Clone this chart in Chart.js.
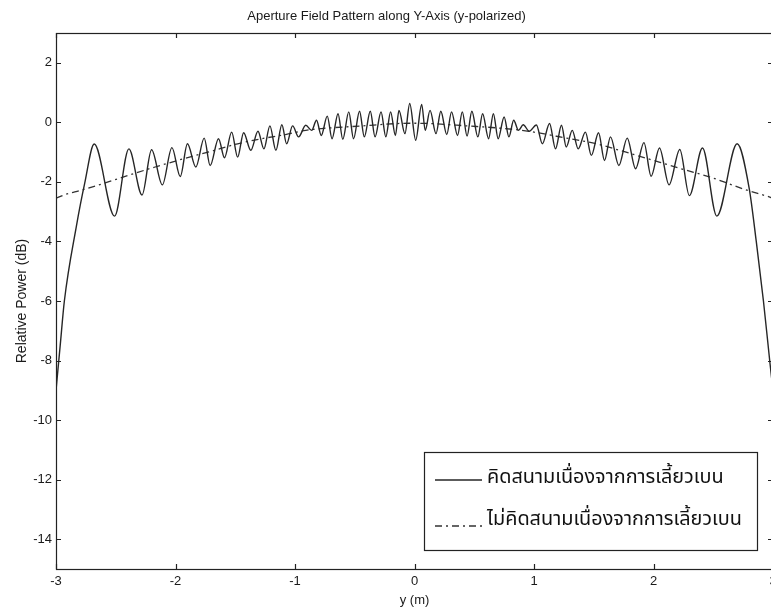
<!DOCTYPE html>
<html>
<head>
<meta charset="utf-8">
<script src="https://cdn.jsdelivr.net/npm/chart.js@4.4.1/dist/chart.umd.min.js"></script>
<style>
  html, body { margin: 0; padding: 0; background: #fff; overflow: hidden; }
</style>
</head>
<body>
<canvas id="apertureChart" width="790" height="610"></canvas>
<script>
// aperture field along y (extrema of the ripple + the edge roll-off)
const solidX = [
  -3.00, -2.965, -2.93, -2.83, -2.76, -2.68, -2.51, -2.39, -2.28, -2.20, -2.11, -2.03, -1.96, -1.90,
  -1.83, -1.76, -1.71, -1.64, -1.59, -1.53, -1.48, -1.43, -1.37, -1.31, -1.26, -1.21, -1.16, -1.11,
  -1.07, -1.02, -0.97, -0.91, -0.86, -0.82, -0.78, -0.73, -0.69, -0.64, -0.60, -0.55, -0.51, -0.46,
  -0.42, -0.37, -0.33, -0.28, -0.24, -0.20, -0.16, -0.13, -0.08, -0.04, 0.01, 0.06, 0.09, 0.13,
  0.18, 0.22, 0.27, 0.31, 0.36, 0.40, 0.44, 0.48, 0.53, 0.57, 0.62, 0.66, 0.70, 0.75, 0.79, 0.83,
  0.87, 0.91, 0.96, 1.02, 1.07, 1.13, 1.18, 1.23, 1.27, 1.32, 1.37, 1.43, 1.48, 1.54, 1.59, 1.64,
  1.71, 1.78, 1.85, 1.92, 1.98, 2.05, 2.13, 2.22, 2.30, 2.41, 2.53, 2.70, 2.80, 2.86, 2.92, 2.975, 3.00
];
const solidY = [
  -9.0, -7.5, -6.0, -3.5, -2.05, -0.73, -3.15, -0.89, -2.44, -0.92, -2.10, -0.85, -1.82, -0.72,
  -1.50, -0.53, -1.45, -0.55, -1.19, -0.33, -1.17, -0.35, -0.94, -0.30, -0.89, -0.12, -0.94, -0.08,
  -0.72, -0.12, -0.49, -0.10, -0.27, 0.07, -0.44, 0.21, -0.55, 0.29, -0.57, 0.35, -0.55, 0.37,
  -0.49, 0.37, -0.49, 0.35, -0.49, 0.35, -0.44, 0.40, -0.38, 0.63, -0.60, 0.60, -0.27, 0.40,
  -0.38, 0.37, -0.41, 0.35, -0.44, 0.35, -0.46, 0.37, -0.49, 0.29, -0.55, 0.29, -0.55, 0.18, -0.49, 0.07,
  -0.27, -0.08, -0.30, -0.09, -0.72, -0.04, -0.89, -0.10, -0.83, -0.27, -0.89, -0.33, -1.11, -0.35, -1.28, -0.49,
  -1.45, -0.53, -1.56, -0.68, -1.81, -0.86, -2.10, -0.91, -2.46, -0.86, -3.15, -0.72, -2.2, -4.0, -6.0, -8.1, -9.0
];

// field without the diffraction term
const dashX = [-3.00, -2.92, -2.79, -2.57, -2.34, -2.17, -1.86, -1.71, -1.48, -1.28, -1.08, -0.91, -0.78,
  -0.44, -0.14, 0.00, 0.44, 0.90, 1.30, 1.50, 1.81, 2.25, 2.475, 2.79, 2.95, 3.00];
const dashY = [-2.55, -2.42, -2.28, -2.01, -1.71, -1.50, -1.14, -0.98, -0.72, -0.55, -0.41, -0.27, -0.21,
  -0.12, -0.04, -0.03, -0.12, -0.27, -0.55, -0.70, -1.05, -1.58, -1.84, -2.29, -2.48, -2.55];

const xTicks = [-3, -2, -1, 0, 1, 2, 3];
const yTicks = [-14, -12, -10, -8, -6, -4, -2, 0, 2];

const seriesNames = ['คิดสนามเนื่องจากการเลี้ยวเบน', 'ไม่คิดสนามเนื่องจากการเลี้ยวเบน'];

const thaiFont = '"Noto Sans Thai", "Noto Serif Thai", Loma, Garuda, Tahoma, "DejaVu Sans", sans-serif';
const latinFont = 'Liberation Sans, Arial, sans-serif';
const DASH_DOT = [7, 4, 2, 4];

function toPoints(xs, ys) {
  return xs.map((x, i) => ({ x: x, y: ys[i] }));
}

// matlab style box with inward ticks on all four sides
const frameTicks = {
  id: 'frameTicks',
  afterDatasetsDraw(chart) {
    const { ctx, chartArea: a, scales } = chart;
    ctx.save();
    ctx.strokeStyle = '#222';
    ctx.lineWidth = 1.2;
    ctx.strokeRect(a.left + 0.5, a.top + 0.5, a.right - a.left, a.bottom - a.top);
    ctx.beginPath();
    xTicks.forEach(v => {
      const px = Math.round(scales.x.getPixelForValue(v)) + 0.5;
      ctx.moveTo(px, a.bottom); ctx.lineTo(px, a.bottom - 5);
      ctx.moveTo(px, a.top); ctx.lineTo(px, a.top + 5);
    });
    yTicks.forEach(v => {
      const py = Math.round(scales.y.getPixelForValue(v)) + 0.5;
      ctx.moveTo(a.left, py); ctx.lineTo(a.left + 5, py);
      ctx.moveTo(a.right, py); ctx.lineTo(a.right - 5, py);
    });
    ctx.stroke();
    ctx.restore();
  }
};

// boxed legend in lower right, like the original figure
const boxLegend = {
  id: 'boxLegend',
  afterDraw(chart) {
    const ctx = chart.ctx;
    const box = { x: 424, y: 452, w: 333, h: 98 };
    ctx.save();
    ctx.fillStyle = '#fff';
    ctx.fillRect(box.x, box.y, box.w, box.h);
    ctx.strokeStyle = '#222';
    ctx.lineWidth = 1.2;
    ctx.strokeRect(box.x + 0.5, box.y + 0.5, box.w, box.h);

    // size text so it fills the box like the scan
    let size = 20;
    ctx.font = size + 'px ' + thaiFont;
    const w = ctx.measureText(seriesNames[1]).width;
    size = Math.min(24, size * 255 / w);
    ctx.font = size + 'px ' + thaiFont;
    ctx.fillStyle = '#111';
    ctx.textBaseline = 'middle';
    ctx.textAlign = 'left';

    chart.data.datasets.forEach((ds, i) => {
      const yRow = i === 0 ? 479 : 521;
      const yLine = i === 0 ? yRow + 1 : yRow + 5;
      ctx.strokeStyle = ds.borderColor;
      ctx.lineWidth = 1.3;
      ctx.setLineDash(ds.borderDash || []);
      ctx.beginPath();
      ctx.moveTo(435, yLine);
      ctx.lineTo(482, yLine);
      ctx.stroke();
      ctx.setLineDash([]);
      ctx.fillText(ds.label, 487, yRow);
    });
    ctx.restore();
  }
};

const ctx = document.getElementById('apertureChart').getContext('2d');
new Chart(ctx, {
  type: 'line',
  data: {
    datasets: [
      {
        label: seriesNames[0],
        data: toPoints(solidX, solidY),
        borderColor: '#262626',
        borderWidth: 1.4,
        pointRadius: 0,
        cubicInterpolationMode: 'monotone',
        fill: false
      },
      {
        label: seriesNames[1],
        data: toPoints(dashX, dashY),
        borderColor: '#333',
        borderWidth: 1.3,
        borderDash: DASH_DOT,
        pointRadius: 0,
        cubicInterpolationMode: 'monotone',
        fill: false
      }
    ]
  },
  options: {
    responsive: false,
    animation: false,
    layout: { padding: { left: 0, right: 17, top: 0, bottom: 0 } },
    plugins: {
      legend: { display: false },
      tooltip: { enabled: false },
      title: {
        display: true,
        text: 'Aperture Field Pattern along Y-Axis (y-polarized)',
        color: '#1a1a1a',
        font: { family: latinFont, size: 13, weight: 'normal' },
        padding: { top: 9, bottom: 8.4 }
      }
    },
    scales: {
      x: {
        type: 'linear',
        min: -3,
        max: 3,
        grid: { display: false, drawTicks: false },
        border: { display: false },
        afterBuildTicks: s => { s.ticks = xTicks.map(v => ({ value: v })); },
        afterFit: s => { s.height = 41; },
        ticks: {
          color: '#1a1a1a',
          padding: 5,
          font: { family: latinFont, size: 13 }
        },
        title: {
          display: true,
          text: 'y (m)',
          color: '#1a1a1a',
          font: { family: latinFont, size: 13 },
          padding: { top: 0, bottom: 2 }
        }
      },
      y: {
        type: 'linear',
        min: -15,
        max: 3,
        grid: { display: false, drawTicks: false },
        border: { display: false },
        afterBuildTicks: s => { s.ticks = yTicks.map(v => ({ value: v })); },
        afterFit: s => { s.width = 56; },
        ticks: {
          color: '#1a1a1a',
          padding: 4,
          font: { family: latinFont, size: 13 }
        },
        title: {
          display: true,
          text: 'Relative Power (dB)',
          color: '#1a1a1a',
          font: { family: latinFont, size: 14 },
          padding: { top: 13.6, bottom: 0 }
        }
      }
    }
  },
  plugins: [frameTicks, boxLegend]
});
</script>
</body>
</html>
